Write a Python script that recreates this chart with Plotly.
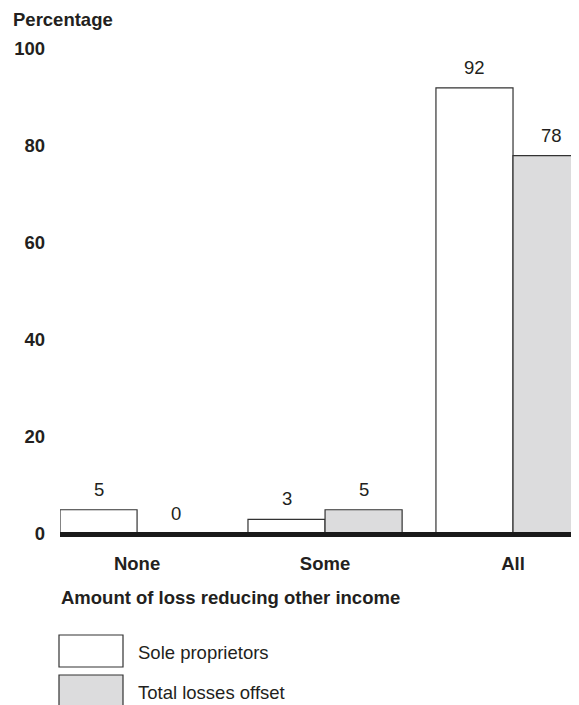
import plotly.graph_objects as go

categories = ["None", "Some", "All"]
sole_proprietors = [5, 3, 92]
total_losses_offset = [0, 5, 78]
series_names = ["Sole proprietors", "Total losses offset"]
y_ticks = [0, 20, 40, 60, 80, 100]

# the page body adds an 8px margin; shrink the figure so it fits the window
OFF = 8
W, H = 579 - OFF, 705 - OFF
ML, MR, MT = 60 - OFF, 0, 49 - OFF
BASE = 534 - OFF
MB = H - BASE
PW, PH = W - ML - MR, H - MT - MB
FONT = "Liberation Sans, Arial, sans-serif"
FS = 18.5
TXT = "#231f20"
GRAY = "#dcdcdd"


def px(xp):  # reference pixel -> paper
    return (xp - OFF - ML) / PW


def py(yp):
    return (H - MB - (yp - OFF)) / PH


fig = go.Figure()
x_idx = list(range(len(categories)))
fig.add_trace(go.Bar(x=x_idx, y=sole_proprietors, name=series_names[0],
                     marker=dict(color="white", line=dict(color="#333333", width=1.2))))
fig.add_trace(go.Bar(x=x_idx, y=total_losses_offset, name=series_names[1],
                     marker=dict(color=GRAY, line=dict(color="#333333", width=1.2))))

bargap = 0.18
bw = (1 - bargap) / 2
annotations = []
for i in x_idx:
    for j, vals in enumerate([sole_proprietors, total_losses_offset]):
        annotations.append(dict(x=i + (j - 0.5) * bw, y=vals[i], xref="x", yref="y",
                                text=str(vals[i]), showarrow=False, yanchor="bottom",
                                yshift=8, font=dict(family=FONT, size=FS, color=TXT)))

annotations += [
    dict(x=px(11), y=py(20), xref="paper", yref="paper", text="Percentage", showarrow=False,
         xanchor="left", yanchor="middle", font=dict(family=FONT, size=FS, color=TXT, weight="bold")),
    dict(x=px(59), y=py(597), xref="paper", yref="paper", text="Amount of loss reducing other income",
         showarrow=False, xanchor="left", yanchor="middle",
         font=dict(family=FONT, size=FS, color=TXT, weight="bold")),
]

shapes = [dict(type="line", xref="paper", yref="paper", x0=0, x1=1, y0=py(534.5), y1=py(534.5),
               line=dict(color="#1a1a1a", width=5), layer="above")]

# legend swatches
leg_rows = [(635, 667), (675, 707)]
fills = ["white", GRAY]
for (t, b), fill, name in zip(leg_rows, fills, series_names):
    shapes.append(dict(type="rect", xref="paper", yref="paper", x0=px(59), x1=px(123),
                       y0=py(b), y1=py(t), fillcolor=fill, line=dict(color="#333333", width=1.2)))
    annotations.append(dict(x=px(136), y=py((t + b) / 2 + 1), xref="paper", yref="paper", text=name,
                            showarrow=False, xanchor="left", yanchor="middle",
                            font=dict(family=FONT, size=FS, color=TXT)))

fig.update_layout(
    width=W, height=H, margin=dict(l=ML, r=MR, t=MT, b=MB),
    paper_bgcolor="white", plot_bgcolor="white",
    barmode="group", bargap=bargap, bargroupgap=0,
    showlegend=False,
    xaxis=dict(range=[-0.5 + bargap / 2, 2.351], tickvals=x_idx, ticktext=categories,
               showgrid=False, zeroline=False, showline=False, ticks="",
               tickfont=dict(family=FONT, size=FS, color=TXT, weight="bold"),
               ticklabelstandoff=16),
    yaxis=dict(range=[0, 100], tickvals=y_ticks, showgrid=False, zeroline=False, showline=False,
               ticks="", tickfont=dict(family=FONT, size=FS, color=TXT, weight="bold"),
               ticklabelstandoff=14),
    annotations=annotations, shapes=shapes,
)

fig.write_html("out.html")
